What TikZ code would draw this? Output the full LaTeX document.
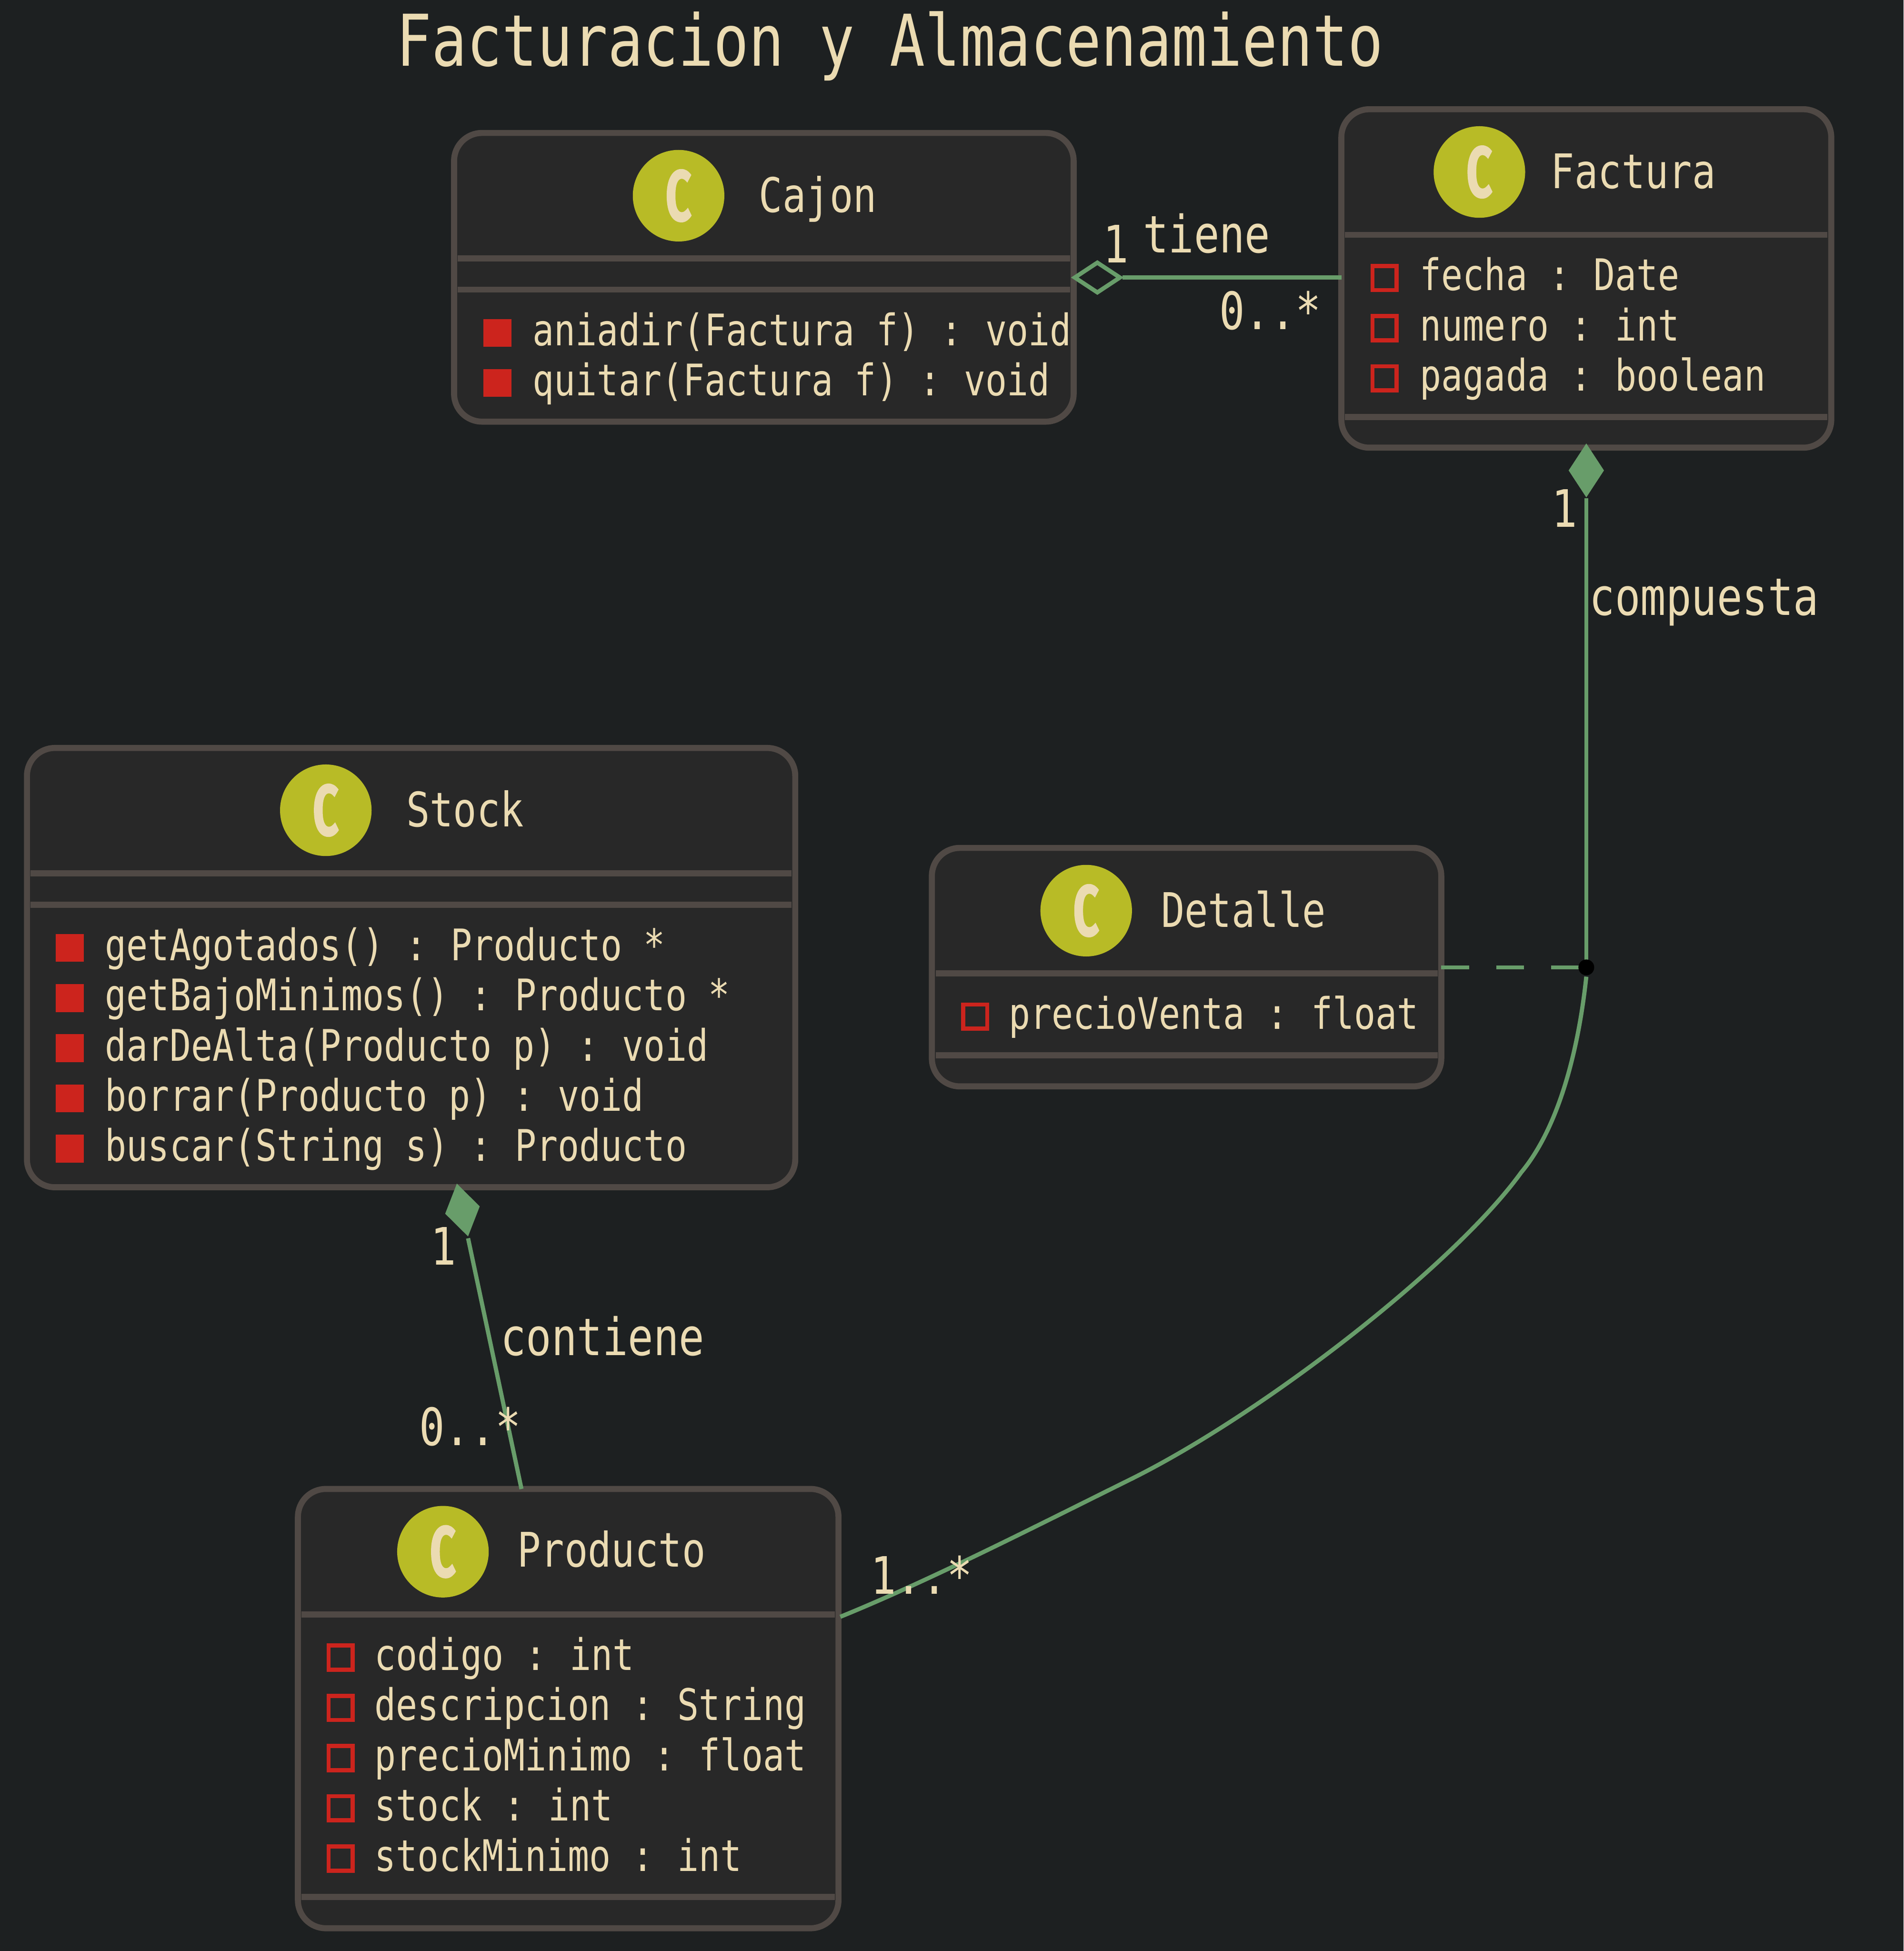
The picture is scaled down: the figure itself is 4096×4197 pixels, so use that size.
\documentclass[tikz,border=0pt]{standalone}
\usepackage{fontspec}
\usetikzlibrary{shapes.geometric}
\newfontfamily\umono[FakeStretch=0.82]{DejaVu Sans Mono}
\newfontfamily\uspot[FakeStretch=0.62,FakeBold=1.5]{Fira Sans Bold}
\newcommand\colsep{:\kern4pt\ }
\definecolor{bgc}{HTML}{1D2021}
\definecolor{boxc}{HTML}{282828}
\definecolor{edgec}{HTML}{504945}
\definecolor{linkc}{HTML}{689D6A}
\definecolor{inkc}{HTML}{EBDBB2}
\definecolor{redc}{HTML}{CC241D}
\definecolor{spotc}{HTML}{B8BB26}
\tikzset{
  x=1pt,y=-1pt,
  classbox/.style={draw=edgec,fill=boxc,line width=13pt,rounded corners=60pt,anchor=north west,inner sep=0pt,outer sep=0pt},
  divider/.style={edgec,line width=13pt},
  spot/.style={circle,fill=spotc,minimum size=197pt,inner sep=0pt,outer sep=0pt},
  spotc letter/.style={anchor=center,inner sep=0pt,text=inkc,font=\uspot\fontsize{155}{155}\selectfont},
  tbase/.style={anchor=base west,inner sep=0pt,text=inkc},
  titletxt/.style={tbase,font=\umono\fontsize{153.6}{153.6}\selectfont},
  nametxt/.style={tbase,font=\umono\fontsize{102.5}{102.5}\selectfont},
  membertxt/.style={tbase,font=\umono\fontsize{93.6}{93.6}\selectfont},
  labeltxt/.style={tbase,font=\umono\fontsize{111}{111}\selectfont},
  methodmark/.style={rectangle,fill=redc,minimum size=60pt,inner sep=0pt,outer sep=0pt},
  fieldmark/.style={rectangle,draw=redc,line width=9pt,minimum size=52pt,inner sep=0pt,outer sep=0pt},
  link/.style={linkc,line width=9pt},
  filleddia/.style={diamond,fill=linkc,minimum width=76pt,minimum height=116pt,inner sep=0pt,outer sep=0pt},
  opendia/.style={diamond,draw=linkc,line width=9pt,fill=bgc,minimum width=97pt,minimum height=64pt,inner sep=0pt,outer sep=0pt},
}
\begin{document}
\begin{tikzpicture}
\path[use as bounding box,fill=bgc] (0,0) rectangle (4096,4197);
\node[titletxt] (title) at (853,142) {Facturacion y Almacenamiento};

% Cajon
\node[classbox,minimum width=1333pt,minimum height=621pt] (cajon) at (977,286) {};
\draw[divider] (985,556) -- (2302,556);
\draw[divider] (985,623) -- (2302,623);
\node[spot] (cajonspot) at (1460,421) {};
\node[spotc letter] (cajonc) at (1460,421) {C};
\node[nametxt] (cajonname) at (1633,456) {Cajon};
\node[methodmark] (cm1) at (1070,716) {};
\node[membertxt] (cajon1) at (1146,743) {aniadir(Factura f) \colsep{}void};
\node[methodmark] (cm2) at (1070,824) {};
\node[membertxt] (cajon2) at (1146,851) {quitar(Factura f) \colsep{}void};

% Factura
\node[classbox,minimum width=1054pt,minimum height=728pt] (factura) at (2886,235) {};
\draw[divider] (2894,505) -- (3932,505);
\draw[divider] (2894,897) -- (3932,897);
\node[spot] (facturaspot) at (3183,370) {};
\node[spotc letter] (facturac) at (3183,370) {C};
\node[nametxt] (facturaname) at (3337,405) {Factura};
\node[fieldmark] (fm1) at (2979,598) {};
\node[membertxt] (fact1) at (3055,625) {fecha \colsep{}Date};
\node[fieldmark] (fm2) at (2979,706) {};
\node[membertxt] (fact2) at (3055,733) {numero \colsep{}int};
\node[fieldmark] (fm3) at (2979,814) {};
\node[membertxt] (fact3) at (3055,841) {pagada \colsep{}boolean};

% Stock
\node[classbox,minimum width=1653pt,minimum height=945pt] (stock) at (58,1609) {};
\draw[divider] (66,1879) -- (1703,1879);
\draw[divider] (66,1946) -- (1703,1946);
\node[spot] (stockspot) at (701,1743) {};
\node[spotc letter] (stockc) at (701,1743) {C};
\node[nametxt] (stockname) at (874,1778) {Stock};
\node[methodmark] (sm1) at (150,2039) {};
\node[membertxt] (stock1) at (226,2066) {getAgotados() \colsep{}Producto *};
\node[methodmark] (sm2) at (150,2147) {};
\node[membertxt] (stock2) at (226,2174) {getBajoMinimos() \colsep{}Producto *};
\node[methodmark] (sm3) at (150,2255) {};
\node[membertxt] (stock3) at (226,2282) {darDeAlta(Producto p) \colsep{}void};
\node[methodmark] (sm4) at (150,2363) {};
\node[membertxt] (stock4) at (226,2390) {borrar(Producto p) \colsep{}void};
\node[methodmark] (sm5) at (150,2471) {};
\node[membertxt] (stock5) at (226,2498) {buscar(String s) \colsep{}Producto};

% Detalle
\node[classbox,minimum width=1096pt,minimum height=513pt] (detalle) at (2005,1824) {};
\draw[divider] (2013,2094) -- (3093,2094);
\draw[divider] (2013,2270) -- (3093,2270);
\node[spot] (detallespot) at (2337,1959) {};
\node[spotc letter] (detallec) at (2337,1959) {C};
\node[nametxt] (detallename) at (2498,1994) {Detalle};
\node[fieldmark] (dm1) at (2098,2187) {};
\node[membertxt] (det1) at (2170,2214) {precioVenta \colsep{}float};

% Producto
\node[classbox,minimum width=1163pt,minimum height=945pt] (producto) at (641,3203) {};
\draw[divider] (649,3473) -- (1796,3473);
\draw[divider] (649,4081) -- (1796,4081);
\node[spot] (productospot) at (953,3338) {};
\node[spotc letter] (productoc) at (953,3338) {C};
\node[nametxt] (productoname) at (1113,3371) {Producto};
\node[fieldmark] (pm1) at (733,3566) {};
\node[membertxt] (prod1) at (806,3593) {codigo \colsep{}int};
\node[fieldmark] (pm2) at (733,3674) {};
\node[membertxt] (prod2) at (806,3701) {descripcion \colsep{}String};
\node[fieldmark] (pm3) at (733,3782) {};
\node[membertxt] (prod3) at (806,3809) {precioMinimo \colsep{}float};
\node[fieldmark] (pm4) at (733,3890) {};
\node[membertxt] (prod4) at (806,3917) {stock \colsep{}int};
\node[fieldmark] (pm5) at (733,3998) {};
\node[membertxt] (prod5) at (806,4025) {stockMinimo \colsep{}int};

% Arrowheads and joint, above the boxes
\node[opendia] (dcajon) at (2361,597) {};
\node[filleddia] (dfact) at (3413,1012) {};
\node[filleddia,rotate=12] (dstock) at (995,2603) {};
\coordinate (jointc) at (3413,2081);

% Connectors
\coordinate (prodtop) at (1122,3203);
\coordinate (prodside) at (1808,3478);
\coordinate (curvestart) at (3413,2101);
\draw[link] (dcajon.east) ++(6,0) -- (factura.west |- dcajon.east);
\draw[link] (dfact.south) ++(0,2) -- (jointc);
\draw[link,dash pattern=on 60pt off 58pt] (detalle.east |- jointc) -- (jointc);
\draw[link] (dstock.south) ++(0,4) -- (prodtop);
\draw[link] (curvestart) .. controls (3395,2270) and (3350,2430) .. (3273,2522)
  .. controls (3130,2720) and (2720,3040) .. (2431,3183)
  .. controls (2231,3282) and (2000,3400) .. (prodside);
\node[circle,fill=black,minimum size=34pt,inner sep=0pt,outer sep=0pt] (joint) at (jointc) {};

% Labels
\node[labeltxt] (ltiene) at (2459,544) {tiene};
\node[labeltxt,anchor=base] (lc1) at (2401,565) {1};
\node[labeltxt] (lc2) at (2623,709) {0..*};
\node[labeltxt] (lcomp) at (3420,1323) {compuesta};
\node[labeltxt,anchor=base] (lf1) at (3366,1134) {1};
\node[labeltxt] (lcont) at (1077,2916) {contiene};
\node[labeltxt,anchor=base] (ls1) at (954,2721) {1};
\node[labeltxt] (ls2) at (902,3109) {0..*};
\node[labeltxt] (lp1) at (1873,3429) {1..*};
\end{tikzpicture}
\end{document}
